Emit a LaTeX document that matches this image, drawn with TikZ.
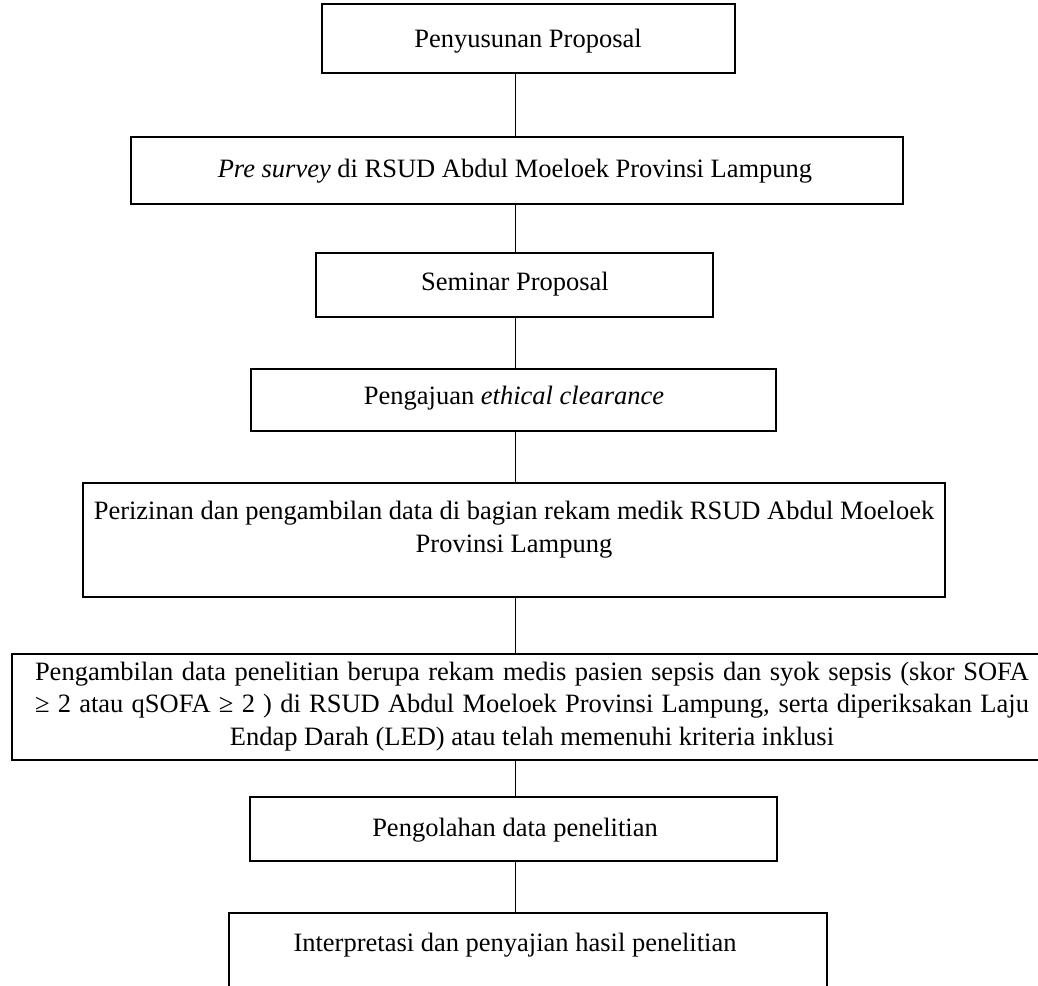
\documentclass[tikz,border=0pt]{standalone}
\usepackage{fontspec}
\setmainfont{Liberation Serif}
\begin{document}
\begin{tikzpicture}[x=1pt,y=-1pt,
  box/.style={draw, line width=1.8pt, inner sep=0pt},
  link/.style={draw, line width=1pt},
  lbl/.style={anchor=base, inner sep=0pt, font=\fontsize{26.5}{32.5}\selectfont, align=center}]
\useasboundingbox (0,0) rectangle (1038,985);
\coordinate (spine) at (515,0);
% boxes
\node[box, minimum width=413pt, minimum height=69pt] (b1) at (528.5,38.5) {};
\node[box, minimum width=772pt, minimum height=67pt] (b2) at (517,170.5) {};
\node[box, minimum width=397pt, minimum height=64pt] (b3) at (514.5,285) {};
\node[box, minimum width=525pt, minimum height=62pt] (b4) at (513.5,400) {};
\node[box, minimum width=862pt, minimum height=114pt] (b5) at (514,540) {};
\node[box, minimum width=1040pt, minimum height=106pt] (b6) at (532,707) {};
\node[box, minimum width=527pt, minimum height=64pt] (b7) at (513.5,829) {};
\node[box, minimum width=598pt, minimum height=100pt] (b8) at (528,963) {};
% texts (base = baseline of the last line)
\node[lbl] (t1) at (528,47) {Penyusunan Proposal};
\node[lbl] (t2) at (515,177) {\textit{Pre survey} di RSUD Abdul Moeloek Provinsi Lampung};
\node[lbl] (t3) at (515,290) {Seminar Proposal};
\node[lbl] (t4) at (514,404) {Pengajuan \textit{ethical clearance}};
\node[lbl] (t5) at (514,552) {Perizinan dan pengambilan data di bagian rekam medik RSUD Abdul Moeloek\\Provinsi Lampung};
\node[lbl] (t6) at (532,745) {\makebox[994pt][s]{Pengambilan data penelitian berupa rekam medis pasien sepsis dan syok sepsis (skor SOFA}\\\makebox[994pt][s]{≥ 2 atau qSOFA ≥ 2 ) di RSUD Abdul Moeloek Provinsi Lampung, serta diperiksakan Laju}\\Endap Darah (LED) atau telah memenuhi kriteria inklusi};
\node[lbl] (t7) at (515,836) {Pengolahan data penelitian};
\node[lbl] (t8) at (515,951) {Interpretasi dan penyajian hasil penelitian};
% connectors
\draw[link] (b1.south -| spine) -- (b2.north -| spine);
\draw[link] (b2.south -| spine) -- (b3.north -| spine);
\draw[link] (b3.south -| spine) -- (b4.north -| spine);
\draw[link] (b4.south -| spine) -- (b5.north -| spine);
\draw[link] (b5.south -| spine) -- (b6.north -| spine);
\draw[link] (b6.south -| spine) -- (b7.north -| spine);
\draw[link] (b7.south -| spine) -- (b8.north -| spine);
\end{tikzpicture}
\end{document}
